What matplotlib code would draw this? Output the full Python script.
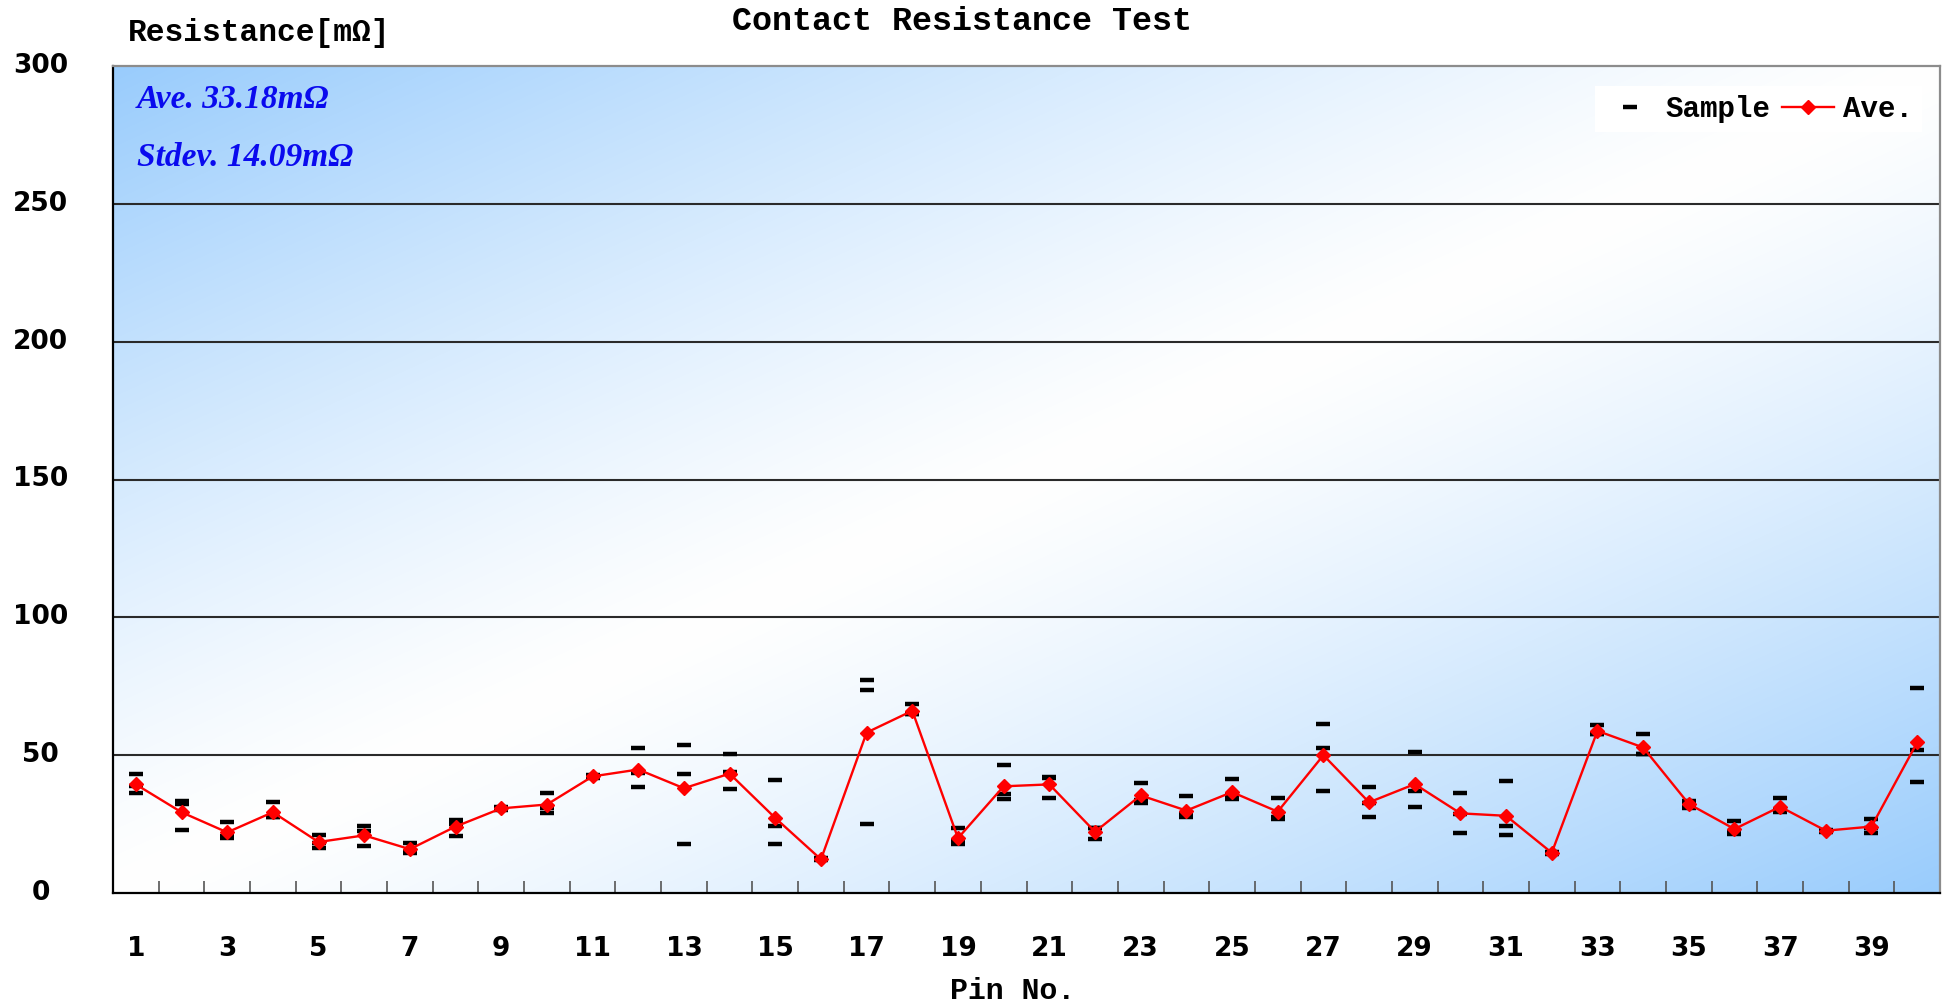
import numpy as np
import matplotlib
matplotlib.use("Agg")
import matplotlib.pyplot as plt
from matplotlib.lines import Line2D

# ---------------- data ----------------
pins = list(range(1, 41))
sample_a = [43.0, 33.5, 25.7, 33.0, 21.0, 24.4, 18.3, 26.6, 31.2, 36.3,
            42.8, 52.6, 53.8, 50.4, 41.1, 12.8, 77.2, 68.5, 23.5, 46.3,
            42.1, 23.5, 39.8, 35.1, 41.2, 34.4, 61.2, 38.4, 51.1, 36.3,
            40.5, 15.0, 61.1, 57.7, 33.5, 26.2, 34.4, 23.0, 27.0, 74.4]
sample_b = [38.9, 32.3, 20.5, 27.5, 18.2, 22.6, 15.0, 25.2, 30.7, 30.9,
            42.3, 43.4, 43.0, 43.9, 24.4, 12.2, 73.8, 64.9, 19.0, 35.8,
            41.7, 23.6, 33.8, 28.5, 35.5, 27.6, 52.6, 32.6, 37.1, 28.7,
            24.4, 14.6, 57.8, 50.4, 32.3, 22.0, 30.2, 22.6, 23.6, 51.7]
sample_c = [36.3, 23.0, 19.8, 27.4, 16.3, 17.1, 14.4, 20.5, 30.2, 29.1,
            41.8, 38.4, 17.7, 37.7, 17.7, 11.8, 25.1, 64.9, 17.8, 34.2,
            34.4, 19.5, 32.6, 27.5, 34.0, 26.8, 37.1, 27.7, 31.1, 21.7,
            21.0, 14.2, 57.5, 50.3, 31.0, 21.4, 29.3, 22.2, 21.7, 40.4]
average = [39.4, 29.3, 22.0, 29.3, 18.5, 20.9, 15.9, 24.1, 30.7, 32.1,
           42.3, 44.8, 38.0, 43.3, 27.2, 12.2, 58.2, 66.1, 19.9, 38.7,
           39.4, 22.2, 35.4, 29.9, 36.6, 29.5, 50.0, 32.9, 39.5, 28.9,
           28.0, 14.6, 58.8, 52.8, 32.3, 23.2, 31.3, 22.6, 24.1, 54.6]
xtick_labels = [str(p) if p % 2 == 1 else "" for p in pins]
ytick_values = [0, 50, 100, 150, 200, 250, 300]
stats_text = ["Ave. 33.18mΩ", "Stdev. 14.09mΩ"]

# ---------------- figure ----------------
W, H = 1946, 1007
fig = plt.figure(figsize=(W / 100, H / 100), dpi=100)
ax = fig.add_axes([113 / W, 1 - 893 / H, (1940 - 113) / W, (893 - 66) / H])

# diagonal gradient background: blue at top-left / bottom-right, white in middle
nx, ny = 400, 200
u = np.linspace(0, 1, nx)[None, :]
v = np.linspace(0, 1, ny)[:, None]
t = np.abs((u + v) - 1.0) ** 1.25
blue = np.array([0.60, 0.80, 0.99])
white = np.array([1.0, 1.0, 1.0])
img = white[None, None, :] + (blue - white)[None, None, :] * t[..., None]
ax.imshow(img, extent=[0, 1, 0, 1], transform=ax.transAxes, aspect="auto",
          origin="upper", zorder=0, interpolation="bilinear")

ax.set_xlim(0.5, 40.5)
ax.set_ylim(0, 300)

# gridlines
for yv in ytick_values[1:-1]:
    ax.axhline(yv, color="#2a2a2a", lw=1.5, zorder=1)

# samples
for s in (sample_a, sample_b, sample_c):
    ax.plot(pins, s, ls="none", marker="_", color="black", ms=10, mew=3.2, zorder=3)
# average
ax.plot(pins, average, color="red", lw=1.7, marker="D", ms=7.5, mfc="red",
        mec="red", zorder=4)

# spines
for side in ("left", "bottom"):
    ax.spines[side].set_color("black")
    ax.spines[side].set_linewidth(1.6)
for side in ("top", "right"):
    ax.spines[side].set_color("#8c8c8c")
    ax.spines[side].set_linewidth(1.6)

# ticks
ax.set_xticks(pins)
ax.set_xticklabels(xtick_labels, fontfamily="DejaVu Sans", fontweight="bold",
                   fontsize=19)
ax.tick_params(axis="x", which="major", length=0, pad=31)
ax.set_xticks([p + 0.5 for p in pins[:-1]], minor=True)
ax.tick_params(axis="x", which="minor", direction="in", length=8.5, width=1.2,
               color="#555555")
ax.set_yticks(ytick_values)
ax.set_yticklabels([str(v) for v in ytick_values], fontfamily="DejaVu Sans",
                   fontweight="bold", fontsize=19, ha="center")
ax.tick_params(axis="y", length=0, pad=52)
for lab in ax.get_yticklabels():
    lab.set_verticalalignment("center")

# stats text
for i, yy in enumerate((100, 158)):
    ax.text(0.013, 1 - (yy - 66) / 827, stats_text[i], transform=ax.transAxes,
            color="#0a0aee", fontsize=24, fontfamily="Liberation Serif",
            fontweight="bold", fontstyle="italic", va="center", ha="left", zorder=5)

# legend
handles = [Line2D([], [], ls="none", marker="_", color="black", ms=10, mew=3.2),
           Line2D([], [], color="red", lw=1.7, marker="D", ms=7, mfc="red", mec="red")]
leg = ax.legend(handles, ["Sample", "Ave."], loc="center right",
                bbox_to_anchor=(0.998, 1 - (109 - 66) / 827), ncol=2,
                prop={"family": "Liberation Mono", "weight": "bold", "size": 21},
                frameon=True, facecolor="white", edgecolor="none", framealpha=1,
                fancybox=False, handlelength=1.8, columnspacing=0.4,
                handletextpad=0.3, borderpad=0.3)
leg.set_zorder(6)

# titles / labels
fig.text(962 / W, 1 - 21 / H, "Contact Resistance Test", ha="center", va="center",
         fontfamily="Liberation Mono", fontweight="bold", fontsize=24)
fig.text(128 / W, 1 - 33 / H, "Resistance[mΩ]", ha="left", va="center",
         fontfamily="Liberation Mono", fontweight="bold", fontsize=22.5)
fig.text(1013 / W, 1 - 991 / H, "Pin No.", ha="center", va="center",
         fontfamily="Liberation Mono", fontweight="bold", fontsize=21.5)

fig.savefig("out.png", dpi=100, facecolor="white")
